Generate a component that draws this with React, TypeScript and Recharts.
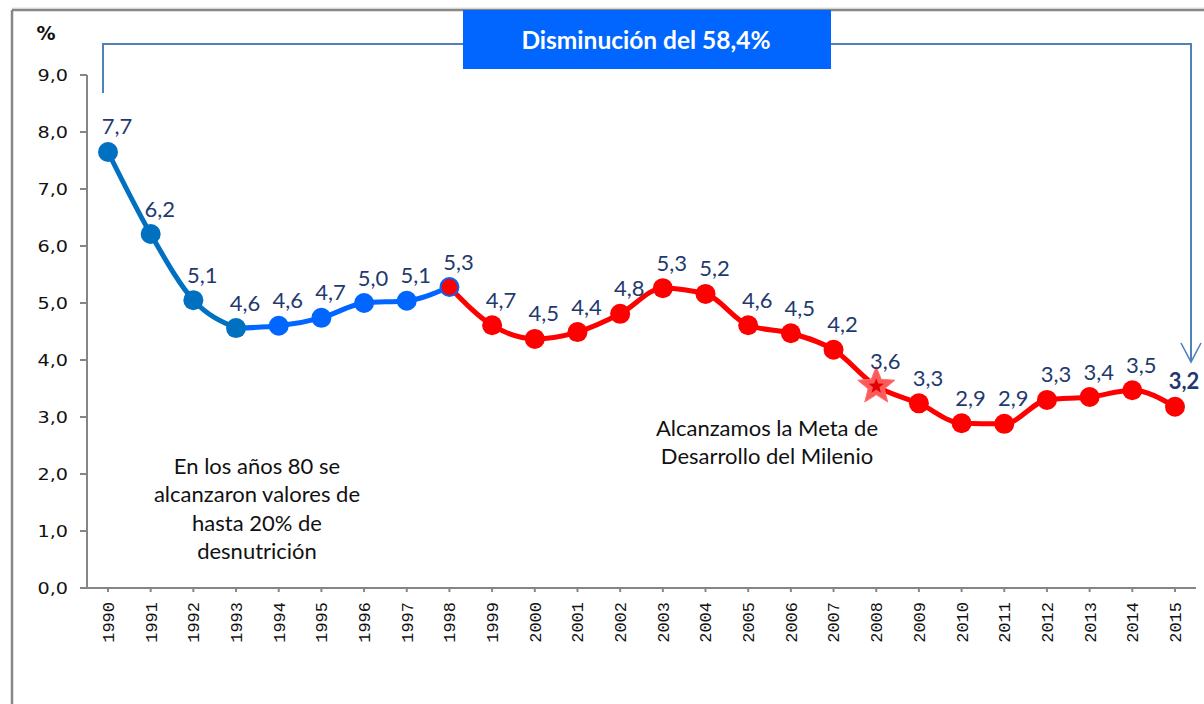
import React from 'react';
import { LineChart, Line, XAxis, YAxis, LabelList } from 'recharts';

const years = ['1990','1991','1992','1993','1994','1995','1996','1997','1998','1999','2000','2001','2002','2003','2004','2005','2006','2007','2008','2009','2010','2011','2012','2013','2014','2015'];
const values = [7.65, 6.21, 5.05, 4.56, 4.6, 4.74, 5.0, 5.04, 5.28, 4.61, 4.37, 4.49, 4.81, 5.26, 5.16, 4.61, 4.47, 4.18, 3.54, 3.24, 2.89, 2.88, 3.3, 3.35, 3.47, 3.18];
const valueLabels = ['7,7','6,2','5,1','4,6','4,6','4,7','5,0','5,1','5,3','4,7','4,5','4,4','4,8','5,3','5,2','4,6','4,5','4,2','3,6','3,3','2,9','2,9','3,3','3,4','3,5','3,2'];
const yTicks = [0, 1, 2, 3, 4, 5, 6, 7, 8, 9];
const firstSegmentEnd = '1993';
const transitionYear = '1998';
const milestoneYear = '2008';
const latestYear = '2015';
const boxText = 'Disminución del 58,4%';
const note80s = ['En los años  80 se', 'alcanzaron valores de', 'hasta 20% de', 'desnutrición'];
const noteMeta = ['Alcanzamos la Meta de', 'Desarrollo del Milenio'];

const iFirst = years.indexOf(firstSegmentEnd);
const iTrans = years.indexOf(transitionYear);

const data = years.map((year, i) => ({
  year,
  all: values[i],
  early: i <= iFirst ? values[i] : null,
  mid: i >= iFirst && i <= iTrans ? values[i] : null,
  late: i >= iTrans ? values[i] : null,
}));

const DARK_BLUE = '#0070C0';
const BRIGHT_BLUE = '#0066FF';
const RED = '#FF0000';
const AXIS = '#868686';
const LABEL = '#1F3A6E';

const fmt = (v: number) => v.toFixed(1).replace('.', ',');

const starPoints = (cx: number, cy: number, R: number, r: number) => {
  const pts: string[] = [];
  for (let k = 0; k < 10; k++) {
    const rad = k % 2 === 0 ? R : r;
    const a = -Math.PI / 2 + (k * Math.PI) / 5;
    pts.push(`${cx + rad * Math.cos(a)},${cy + rad * Math.sin(a)}`);
  }
  return pts.join(' ');
};

const makeDot = (color: string, skipYear?: string) => (props: any) => {
  const { cx, cy, payload, index } = props;
  const key = `d-${color}-${index}`;
  if (cx == null || cy == null || payload == null) return <g key={key} />;
  if (skipYear && payload.year === skipYear) return <g key={key} />;
  return <circle key={key} cx={cx} cy={cy} r={10} fill={color} stroke="none" />;
};

const redDot = (props: any) => {
  const { cx, cy, payload, index } = props;
  const key = `r-${index}`;
  if (cx == null || cy == null || payload == null) return <g key={key} />;
  if (payload.year === milestoneYear) {
    return (
      <g key={key}>
        <polygon points={starPoints(cx, cy, 19.5, 8.5)} fill="#FF5A5A" stroke="#FF7070" strokeWidth={1} />
        <polygon points={starPoints(cx, cy, 8, 3.4)} fill="#E00000" />
      </g>
    );
  }
  const r = payload.year === transitionYear ? 8 : 10;
  return <circle key={key} cx={cx} cy={cy} r={r} fill={RED} stroke="none" />;
};

const XTick = (props: any) => {
  const { x, y, payload } = props;
  return (
    <text
      x={x}
      y={y}
      transform={`rotate(-90 ${x} ${y})`}
      textAnchor="end"
      dy="0.35em"
      fontFamily="'Liberation Mono', monospace"
      fontSize={17}
      fill="#111"
    >
      {payload.value}
    </text>
  );
};

const YTick = (props: any) => {
  const { x, y, payload } = props;
  return (
    <text
      transform={`translate(${x},${y}) scale(1.2,1)`}
      textAnchor="end"
      dy="0.36em"
      fontFamily="'DejaVu Sans', sans-serif"
      fontSize={16}
      fill="#111"
    >
      {fmt(payload.value)}
    </text>
  );
};

const renderValueLabel = (props: any) => {
  const { x, y, index } = props;
  const bold = years[index] === latestYear;
  return (
    <text
      key={`lab-${index}`}
      x={x + 9}
      y={y - 26}
      textAnchor="middle"
      dominantBaseline="central"
      fontFamily="Lato, sans-serif"
      fontSize={22}
      fontWeight={bold ? 700 : 400}
      fill={LABEL}
    >
      {valueLabels[index]}
    </text>
  );
};

export default function App() {
  return (
    <div style={{ position: 'absolute', left: 0, top: 0, width: 1204, height: 704, background: '#fff', overflow: 'hidden' }}>
      <LineChart width={1204} height={704} data={data} margin={{ top: 75, right: 8, bottom: 56, left: 27 }}>
        <XAxis
          dataKey="year"
          height={60}
          padding={{ left: 21, right: 21 }}
          axisLine={{ stroke: AXIS, strokeWidth: 2 }}
          tickLine={{ stroke: AXIS, strokeWidth: 2 }}
          tickSize={4}
          tickMargin={10}
          interval={0}
          tick={<XTick />}
        />
        <YAxis
          domain={[0, 9]}
          ticks={yTicks}
          width={60}
          axisLine={{ stroke: AXIS, strokeWidth: 2 }}
          tickLine={{ stroke: AXIS, strokeWidth: 2 }}
          tickSize={7}
          tickMargin={12}
          interval={0}
          tick={<YTick />}
        />
        <Line dataKey="mid" type="monotone" stroke={BRIGHT_BLUE} strokeWidth={5} dot={makeDot(BRIGHT_BLUE, firstSegmentEnd)} activeDot={false} isAnimationActive={false} connectNulls={false} />
        <Line dataKey="early" type="monotone" stroke={DARK_BLUE} strokeWidth={5} dot={makeDot(DARK_BLUE)} activeDot={false} isAnimationActive={false} connectNulls={false} />
        <Line dataKey="late" type="monotone" stroke={RED} strokeWidth={5} dot={redDot} activeDot={false} isAnimationActive={false} connectNulls={false} />
        <Line dataKey="all" stroke="none" dot={false} activeDot={false} isAnimationActive={false}>
          <LabelList dataKey="all" content={renderValueLabel} />
        </Line>
      </LineChart>

      <svg width={1204} height={704} style={{ position: 'absolute', left: 0, top: 0, pointerEvents: 'none' }}>
        <line x1={12} y1={8} x2={1204} y2={8} stroke="#E0E0E0" strokeWidth={1} />
        <line x1={12} y1={10} x2={1204} y2={10} stroke="#878787" strokeWidth={2.5} />
        <line x1={12} y1={10} x2={12} y2={704} stroke="#878787" strokeWidth={2.5} />
        <polyline points="103,93 103,44 1191,44 1191,362" fill="none" stroke="#4F81BD" strokeWidth={2} />
        <polyline points="1181,343 1191,362 1201,343" fill="none" stroke="#4F81BD" strokeWidth={1.6} />
        <rect x={463} y={10} width={368} height={59} fill="#0066FF" />
        <text x={646} y={39} textAnchor="middle" dominantBaseline="central" fontFamily="Lato, sans-serif" fontWeight={700} fontSize={24.5} fill="#fff">
          {boxText}
        </text>
        <text x={46} y={33} textAnchor="middle" dominantBaseline="central" fontFamily="'DejaVu Sans', sans-serif" fontWeight={700} fontSize={19} fill="#111">
          %
        </text>
        {note80s.map((t, i) => (
          <text key={`n80-${i}`} x={257} y={465 + i * 28.5} textAnchor="middle" dominantBaseline="central" fontFamily="Lato, sans-serif" fontSize={22} fill="#111">
            {t}
          </text>
        ))}
        {noteMeta.map((t, i) => (
          <text key={`nm-${i}`} x={767} y={427 + i * 28} textAnchor="middle" dominantBaseline="central" fontFamily="Lato, sans-serif" fontSize={22} fill="#111">
            {t}
          </text>
        ))}
      </svg>
    </div>
  );
}
